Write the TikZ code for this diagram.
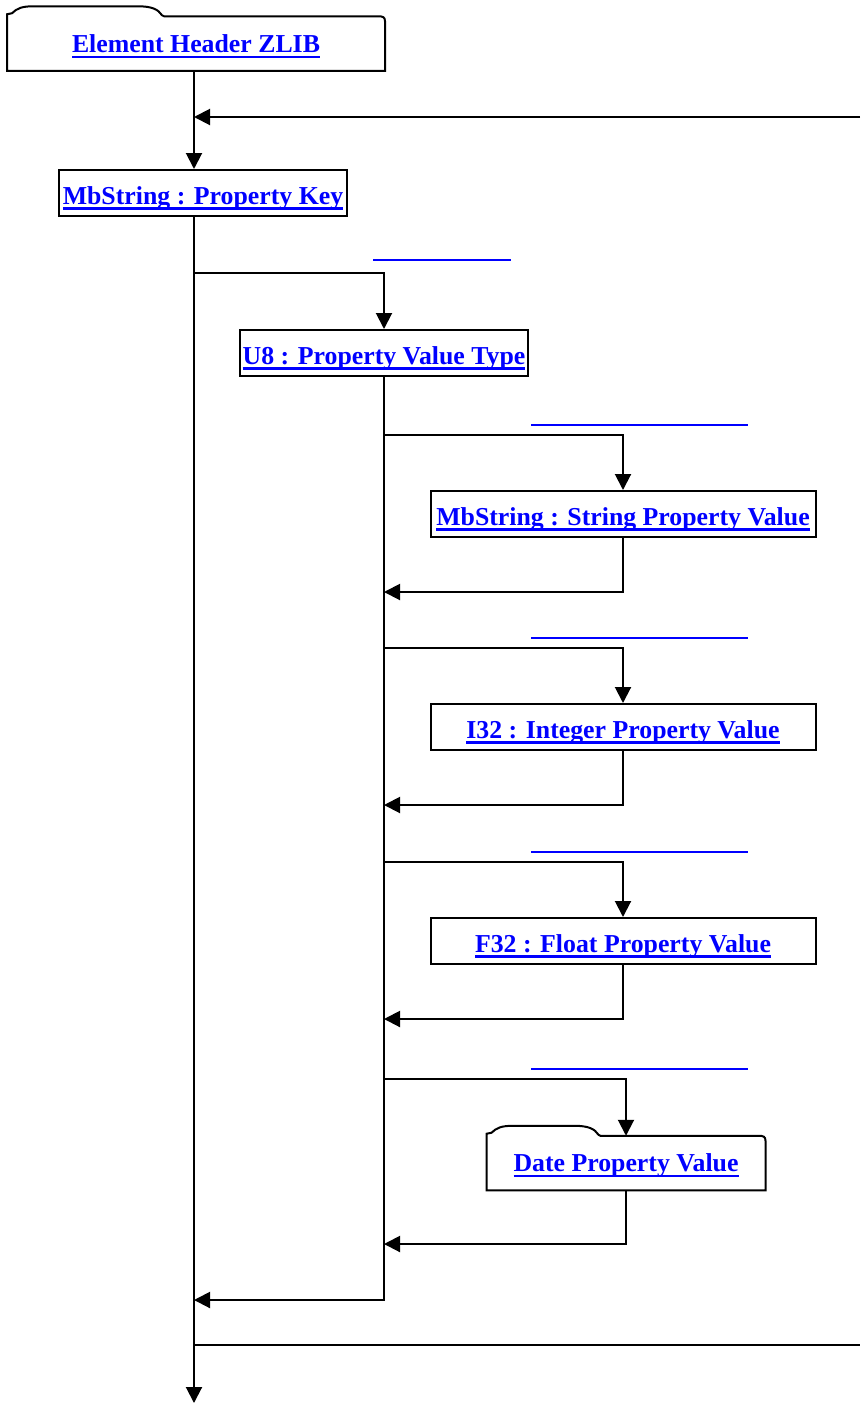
\documentclass[tikz,border=0pt]{standalone}
\usepackage{fontspec}
\setmainfont{Liberation Serif}
\usetikzlibrary{arrows.meta,calc}
\definecolor{linkblue}{RGB}{0,0,255}
\newsavebox\lnkbox
\newcommand{\lnk}[1]{\sbox\lnkbox{#1}\rlap{\rule[-5.5pt]{\wd\lnkbox}{2.2pt}}\usebox\lnkbox}
% outline of a box with a folder tab on the upper left
\newcommand{\foldertab}[2]{%
  \begin{scope}[shift={(#1.north west)}]
    \draw[boxline] (#1.south west) -- (0,-2) .. controls (2,-2) and (3,-2) .. (5,-3)
      .. controls (10,-8) and (15,-10) .. (27,-10) -- (#2-27,-10)
      .. controls (#2-12,-10) and (#2-6,-7) .. (#2-2,-1) -- (#2,0)
      -- ($(#1.north east)+(-7,0)$) .. controls ($(#1.north east)+(-2,0)$) and ($(#1.north east)+(0,1)$) .. ($(#1.north east)+(0,5)$)
      -- (#1.south east) -- cycle;
  \end{scope}}
\tikzset{
  boxline/.style={line width=2pt},
  elem/.style={draw,boxline,text=linkblue,font=\fontsize{25.8}{30}\selectfont\bfseries,
    inner xsep=0pt,inner ysep=0pt,text height=34pt,text depth=12pt},
  folder/.style={elem,draw=none,text height=35pt,text depth=17.5pt},
  flow/.style={line width=2pt,-{Triangle[width=16pt,length=16pt]}},
  wire/.style={line width=2pt},
  linkline/.style={linkblue,line width=2.2pt},
}
\begin{document}
\begin{tikzpicture}[x=1pt,y=-1pt]
\useasboundingbox (0,0) rectangle (860,1403);
% element header and property key
\node[folder,minimum width=376pt] (header) at (196,43.5) {\lnk{Element Header ZLIB}};
\foldertab{header}{157}
\node[elem,minimum width=288pt] (key) at (203,193) {\lnk{MbString : Property Key}};
\coordinate (trk) at (194,0);
\coordinate (loopin) at (860,117);
\coordinate (loopout) at (860,1345);
\coordinate (bottom) at (194,1403);
\draw[flow] (header.south -| trk) -- (key.north -| trk);
\draw[flow] (loopin) -- (loopin -| trk);
\draw[flow] (key.south -| trk) -- (bottom);
\draw[wire] (loopout -| trk) -- (loopout);
% value type
\node[elem,minimum width=288pt] (vtype) at (384,353) {\lnk{U8 : Property Value Type}};
\coordinate (fork) at (194,273);
\coordinate (join) at (384,1300);
\draw[linkline] (373,260) -- (511,260);
\draw[flow] (fork) -| (vtype.north);
\draw[flow] (vtype.south) -- (join) -- (join -| trk);
% values
\foreach \nm/\yc/\txt in {strval/514/{MbString : String Property Value},
    intval/727/{I32 : Integer Property Value},fltval/941/{F32 : Float Property Value}}
  \node[elem,minimum width=385pt] (\nm) at (623,\yc) {\lnk{\txt}};
\node[folder,minimum width=277pt] (dateval) at (626,1163) {\lnk{Date Property Value}};
\foldertab{dateval}{114}
\foreach \nm/\yf/\yr in {strval/435/592,intval/648/805,fltval/862/1019,dateval/1079/1244}{
  \coordinate (\nm-in) at (384,\yf);
  \coordinate (\nm-out) at (384,\yr);
  \draw[linkline] (531,\yf-10) -- (748,\yf-10);
  \draw[flow] (\nm-in) -| (\nm.north);
  \draw[flow] (\nm.south) |- (\nm-out);
}
\end{tikzpicture}
\end{document}
